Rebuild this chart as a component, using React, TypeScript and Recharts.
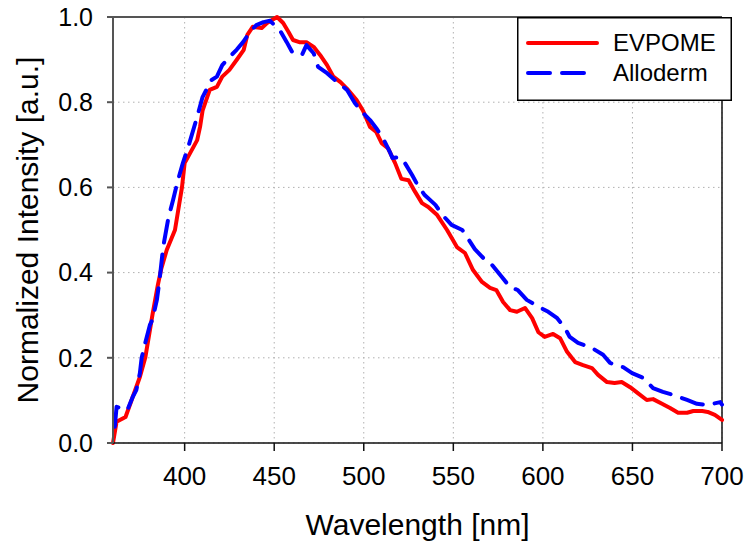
import React from "react";
import { LineChart, Line, XAxis, YAxis, CartesianGrid, ReferenceLine, Label } from "recharts";

// EVPOME spectrum (wavelength nm / normalized intensity)
const evpomeNm = [
  360, 362, 367, 371, 375, 378, 381, 382, 385, 387, 390, 394.6, 398.5, 400, 407, 408.6, 410, 414, 418, 421, 425,
  429, 433, 435, 438, 443, 446, 451.6, 455, 458, 460.5, 464, 468, 472, 475.6, 479.5, 483, 487, 490.6, 496, 499.6,
  503.5, 507, 510, 513.5, 517.5, 521, 525, 528.6, 532.5, 536, 541, 546.5, 550, 552, 556.5, 561, 566, 570.5, 574,
  577.8, 581.7, 585.5, 590, 594, 597.5, 601, 605.7, 609.6, 613.5, 618, 622.4, 627.4, 630.8, 635.8, 640, 644, 648.7,
  653, 658, 661.5, 666.5, 671, 675.5, 680.5, 684, 689, 692, 696, 700,
];
const evpomeVal = [
  0.0, 0.05, 0.061, 0.108, 0.155, 0.2, 0.275, 0.3, 0.37, 0.41, 0.453, 0.5, 0.6, 0.657, 0.711, 0.742, 0.78, 0.829,
  0.836, 0.86, 0.876, 0.899, 0.923, 0.958, 0.977, 0.974, 0.986, 1.0, 0.986, 0.965, 0.946, 0.941, 0.941, 0.93, 0.911,
  0.887, 0.86, 0.847, 0.832, 0.805, 0.78, 0.742, 0.73, 0.704, 0.692, 0.657, 0.62, 0.617, 0.59, 0.563, 0.554, 0.535,
  0.5, 0.475, 0.46, 0.446, 0.406, 0.378, 0.364, 0.359, 0.331, 0.312, 0.308, 0.317, 0.293, 0.26, 0.249, 0.256, 0.246,
  0.214, 0.19, 0.183, 0.176, 0.16, 0.143, 0.141, 0.143, 0.131, 0.117, 0.101, 0.103, 0.092, 0.082, 0.071, 0.071,
  0.075, 0.075, 0.073, 0.066, 0.054,
];

// Alloderm spectrum
const allodermNm = [
  361, 362, 368, 371, 373, 375, 376, 378, 380.6, 382, 384.5, 386, 388, 391, 393.5, 396, 399, 402, 407, 410, 415,
  418, 421, 425, 429, 432.6, 436.5, 440, 444, 447.6, 453, 457, 460, 465.5, 468, 472, 474.5, 479.5, 485, 490.6, 495,
  499, 503.5, 507, 510.7, 514.6, 516, 520, 523, 527, 530, 534, 540, 544, 549, 555, 558, 562, 567.7, 571.6, 577,
  581.7, 586, 591, 598, 603, 608, 612, 615, 619.6, 627.4, 633.6, 637.5, 644.8, 649.8, 656, 661.5, 667, 672.7, 680.5,
  686, 691.6, 699, 700,
];
const allodermVal = [
  0.038, 0.085, 0.077, 0.108, 0.124, 0.164, 0.2, 0.235, 0.277, 0.289, 0.336, 0.383, 0.46, 0.53, 0.57, 0.613, 0.657,
  0.695, 0.766, 0.812, 0.852, 0.86, 0.887, 0.906, 0.923, 0.941, 0.965, 0.981, 0.988, 0.991, 0.97, 0.941, 0.918,
  0.911, 0.934, 0.915, 0.883, 0.868, 0.848, 0.829, 0.798, 0.777, 0.758, 0.739, 0.716, 0.683, 0.669, 0.671, 0.657,
  0.629, 0.606, 0.582, 0.559, 0.535, 0.512, 0.5, 0.481, 0.455, 0.43, 0.418, 0.39, 0.366, 0.359, 0.336, 0.319, 0.308,
  0.293, 0.272, 0.249, 0.235, 0.223, 0.207, 0.188, 0.178, 0.164, 0.153, 0.129, 0.12, 0.113, 0.101, 0.092, 0.089,
  0.096, 0.09,
];

const xTicks = [400, 450, 500, 550, 600, 650, 700];
const yTicks = [0, 0.2, 0.4, 0.6, 0.8, 1.0];

const evpome = evpomeNm.map((nm, i) => ({ nm, v: evpomeVal[i] }));
const alloderm = allodermNm.map((nm, i) => ({ nm, v: allodermVal[i] }));

const FONT = "'Liberation Sans', Arial, sans-serif";

// legend drawn as an overlay so it doesn't push the plot down
function LegendBox() {
  return (
    <svg
      width={215}
      height={84}
      style={{ position: "absolute", left: 517, top: 17, display: "block" }}
    >
      <rect x={0.75} y={0.75} width={213.5} height={82.5} fill="#fff" stroke="#000" strokeWidth={1.5} />
      <line x1={11} y1={26} x2={80} y2={26} stroke="#ff0000" strokeWidth={4} strokeLinecap="round" />
      <line
        x1={11}
        y1={56}
        x2={70}
        y2={56}
        stroke="#0000ff"
        strokeWidth={4}
        strokeLinecap="round"
        strokeDasharray="22 12"
      />
      <text x={96} y={34} fontSize={24} fontFamily={FONT} fill="#000">
        EVPOME
      </text>
      <text x={96} y={64} fontSize={24} fontFamily={FONT} fill="#000">
        Alloderm
      </text>
    </svg>
  );
}

export default function App() {
  return (
    <div style={{ position: "absolute", left: 0, top: 0, width: 746, height: 546, background: "#fff" }}>
      <LineChart width={746} height={546} margin={{ top: 17, right: 24, bottom: 0, left: 0 }}>
        <CartesianGrid stroke="#b0b0b0" strokeDasharray="1.5 3.5" />
        <XAxis
          type="number"
          dataKey="nm"
          domain={[360, 700]}
          ticks={xTicks}
          allowDuplicatedCategory={false}
          height={103}
          tickSize={8}
          tickMargin={16}
          stroke="#111"
          strokeWidth={1.5}
          tick={{ fill: "#000", fontSize: 26, fontFamily: FONT }}
        >
          <Label
            value="Wavelength [nm]"
            position="insideBottom"
            offset={11}
            style={{ fontSize: 30, fontFamily: FONT, fill: "#000" }}
          />
        </XAxis>
        <YAxis
          type="number"
          domain={[0, 1]}
          ticks={yTicks}
          width={113}
          tickSize={6}
          tickMargin={14}
          stroke="#555"
          strokeWidth={2}
          tickFormatter={(v: number) => v.toFixed(1)}
          tick={{ fill: "#000", fontSize: 25, fontFamily: FONT }}
        >
          <Label
            value="Normalized Intensity [a.u.]"
            angle={-90}
            position="insideLeft"
            offset={27}
            style={{ fontSize: 30, fontFamily: FONT, fill: "#000", textAnchor: "middle" }}
          />
        </YAxis>
        <ReferenceLine y={1} stroke="#555" strokeWidth={2} />
        <ReferenceLine x={700} stroke="#111" strokeWidth={1.5} />
        <Line
          data={evpome}
          dataKey="v"
          type="linear"
          stroke="#ff0000"
          strokeWidth={4}
          dot={false}
          strokeLinecap="round"
          strokeLinejoin="round"
          isAnimationActive={false}
        />
        <Line
          data={alloderm}
          dataKey="v"
          type="linear"
          stroke="#0000ff"
          strokeWidth={4}
          strokeDasharray="22 12"
          strokeLinecap="round"
          strokeLinejoin="round"
          dot={false}
          isAnimationActive={false}
        />
      </LineChart>
      <LegendBox />
    </div>
  );
}
